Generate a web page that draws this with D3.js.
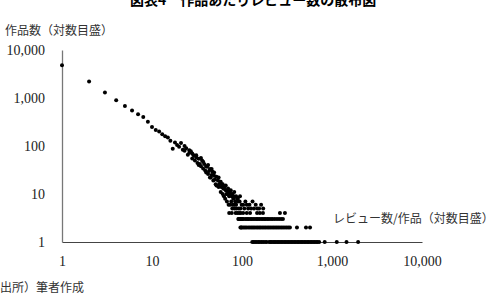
<!DOCTYPE html>
<html>
<head>
<meta charset="utf-8">
<script src="https://cdn.jsdelivr.net/npm/d3@7"></script>
<style>
  body { margin: 0; background: #fff; }
  svg { display: block; }
  .serif { font-family: "Liberation Serif", "DejaVu Serif", serif; }
  .jp { font-family: "Noto Sans CJK JP", "Noto Sans", sans-serif; }
</style>
</head>
<body>
<svg id="chart" width="503" height="294"></svg>
<script>
// upper part of the cloud: reviews per work -> number of works
const headReviews = [1,2,3,4,5,6,7,8,9,10,11,12,13,14,15,16,17,18,19,20,
  21,22,23,24,25,26,27,28,29,30,31,32,33,34,35,36,37,38,39,40,
  41,42,43,44,45,46,47,48,49,50,51,52,53,54,55,56,57,58,59,60,
  61,62,63,64,65,66,67,68,69,70,71,72,73,74,75,76,77,78,79,80,
  81,82,83,84,85,86,87,88,89,90,91,92,93,94,95,96,97,98,99,100,
  103,106,109,113,117,121,126,131,136,142,148,155,163,172]
const headWorks = [4800,2200,1300,900,680,550,460,400,320,250,215,200,175,160,150,128,88,118,105,96,
  115,84,80,90,66,72,78,55,64,50,58,44,54,42,38,50,34,42,31,28,
  37,26,30,33,22,25,29,19,24,20,16,23,15,19,14,16,18,11,14,16,
  10,13,9,14,8,12,10,7,10,13,6,9,11,6,10,7,9,5,6,8,
  9,6,5,7,4,6,5,8,4,7,3,5,4,7,3,5,4,2,6,3,
  6,5,7,6,5,6,5,7,5,6,5,5,6,5]

// extra points that thicken the band
const bandReviews = [23,26,28,31,33,35,37,40,42,44,46,49,52,55,58,61,63,66,69,72,75,78,82,86,90,95]
const bandWorks = [100,82,70,64,40,56,47,38,40,22,33,28,15,22,18,16,13,15,12,11,12,10,11,9,8,9]

// tail rows: works with few reviews counts
const row4 = [72,77,103,113,123,147,158,171,264,300]
const row3 = [92,96,101,105,110,114,118,123,128,133,139,145,150,156,163,170,177,184,192,200,
  210,220,232,245,258,272,285]
const row2 = [96,100,104,108,112,117,122,127,132,137,143,149,155,161,168,175,182,190,198,206,
  215,224,233,243,253,264,275,287,300,313,327,341,408,514,570]
const row1 = [130,135,140,146,152,158,165,172,180,188,200,207,214,222,230,238,247,256,265,275,
  285,296,307,318,330,342,355,368,382,396,411,426,442,458,475,493,512,531,551,572,
  594,616,640,665,690,720,830,1130,1450,1950]

const tickVals = [1, 10, 100, 1000, 10000]

const svg = d3.select("#chart")

const x = d3.scaleLog().domain([1, 10000]).range([62, 422])
const y = d3.scaleLog().domain([1, 10000]).range([242, 50])

// all points in one list
const points = headReviews.map((r, i) => ({r: r, n: headWorks[i]}))
  .concat(bandReviews.map((r, i) => ({r: r, n: bandWorks[i]})))
  .concat(row4.map(r => ({r: r, n: 4})))
  .concat(row3.map(r => ({r: r, n: 3})))
  .concat(row2.map(r => ({r: r, n: 2})))
  .concat(row1.map(r => ({r: r, n: 1})))

// title, mostly cut off at the top edge
svg.append("text")
  .attr("class", "jp")
  .attr("x", 130)
  .attr("y", 5)
  .attr("font-size", 14)
  .attr("font-weight", "bold")
  .text("図表4　作品あたりレビュー数の散布図")

const xAxis = svg.append("g")
  .attr("transform", "translate(0,242)")
  .call(d3.axisBottom(x).tickValues(tickVals).tickSize(0).tickPadding(14).tickFormat(d3.format(",")))
xAxis.select(".domain").attr("stroke", "#444")
xAxis.selectAll("text").attr("class", "serif").attr("font-size", 14).attr("fill", "#222")

const yAxis = svg.append("g")
  .attr("transform", "translate(62,0)")
  .call(d3.axisLeft(y).tickValues(tickVals).tickSize(0).tickPadding(17).tickFormat(d3.format(",")))
yAxis.select(".domain").attr("stroke", "#777").attr("stroke-width", 1.3)
yAxis.selectAll("text").attr("class", "serif").attr("font-size", 14).attr("fill", "#222")

svg.append("g")
  .selectAll("circle")
  .data(points)
  .join("circle")
  .attr("cx", d => x(d.r))
  .attr("cy", d => y(d.n))
  .attr("r", 2)
  .attr("fill", "#000")

svg.append("text")
  .attr("class", "jp")
  .attr("x", 5)
  .attr("y", 35)
  .attr("font-size", 12)
  .attr("fill", "#333")
  .text("作品数（対数目盛）")

svg.append("text")
  .attr("class", "jp")
  .attr("x", 333)
  .attr("y", 223)
  .attr("font-size", 12)
  .attr("fill", "#333")
  .text("レビュー数/作品（対数目盛）")

svg.append("text")
  .attr("class", "jp")
  .attr("x", 0)
  .attr("y", 292)
  .attr("font-size", 12)
  .attr("fill", "#333")
  .text("出所）筆者作成")
</script>
</body>
</html>
